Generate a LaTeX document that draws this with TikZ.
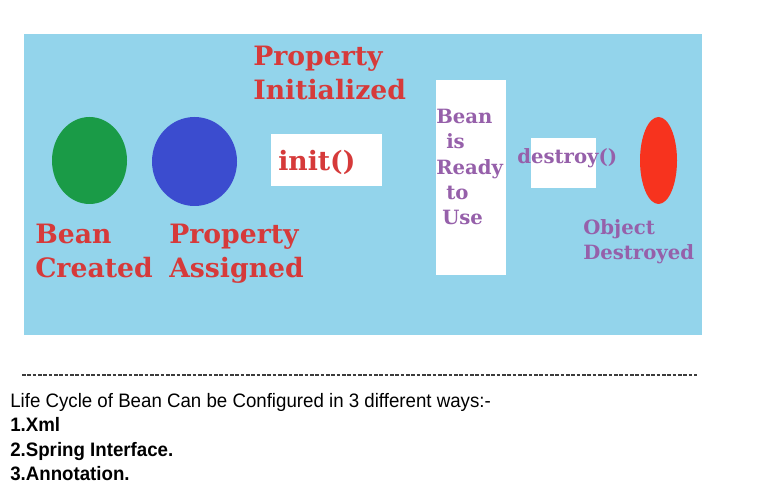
\documentclass[tikz,border=0pt]{standalone}
\usepackage{fontspec}
\setmainfont{Liberation Sans}
\newfontfamily\slabfont{DejaVu Serif}
\newfontfamily\notefont{Liberation Sans}[FakeStretch=0.96]
\definecolor{bgblue}{RGB}{147,212,235}
\definecolor{beangreen}{RGB}{26,155,71}
\definecolor{propblue}{RGB}{59,76,207}
\definecolor{destroyred}{RGB}{247,51,30}
\definecolor{labelred}{RGB}{214,58,58}
\definecolor{labelpurple}{RGB}{150,96,170}
\definecolor{dashgray}{RGB}{60,60,60}
\tikzset{
  redlabel/.style={inner sep=0pt, anchor=north west, align=left, text=labelred,
    font=\slabfont\bfseries\fontsize{20pt}{25.5pt}\selectfont},
  purplelabel/.style={inner sep=0pt, anchor=north west, align=left, text=labelpurple,
    font=\slabfont\bfseries\fontsize{14.75pt}{19pt}\selectfont},
  notetext/.style={inner sep=0pt, anchor=base west, text=black,
    font=\notefont\fontsize{14.6pt}{18pt}\selectfont},
  noteitem/.style={notetext, font=\notefont\bfseries\fontsize{14.6pt}{18pt}\selectfont},
  whitebox/.style={fill=white, draw=none},
}
\begin{document}
\begin{tikzpicture}[x=0.75pt,y=-0.75pt]
\useasboundingbox[fill=white] (0,0) rectangle (762,484);
% panel
\fill[bgblue] (24,34) rectangle (702,335);
% shapes
\fill[beangreen] (89.5,160.5) ellipse [x radius=37.5, y radius=43.5];
\node[inner sep=0pt] (created) at (89.5,160.5) {};
\fill[propblue] (194.5,161.5) ellipse [x radius=42.5, y radius=44.5];
\node[inner sep=0pt] (assigned) at (194.5,161.5) {};
\fill[whitebox] (271,134) rectangle (382,186);
\fill[whitebox] (436,80) rectangle (506,275);
\fill[whitebox] (531,138) rectangle (596,188);
\fill[destroyred] (658.5,160.5) ellipse [x radius=18.5, y radius=43.5];
\node[inner sep=0pt] (destroyed) at (658.5,160.5) {};
% red labels
\node[redlabel] (lblcreated) at (35,224) {Bean\\Created};
\node[redlabel] (lblassigned) at (169,224) {Property\\Assigned};
\node[redlabel] (lblinit) at (253,46) {Property\\Initialized};
\node[redlabel, anchor=base west] (initcall) at (278,171) {init()};
% purple labels
\node[purplelabel] (ready) at (436,109) {Bean\\\hspace*{7.5pt}is\\Ready\\\hspace*{7.5pt}to\\\hspace*{4.5pt}Use};
\node[purplelabel, anchor=base west] (destroycall) at (517,164) {destroy()};
\node[purplelabel] (lbldestroyed) at (583,219) {Object\\Destroyed};
% separator
\coordinate (sepL) at (22,375);
\coordinate (sepR) at (697,375);
\draw[dashgray, line width=0.8pt, dash pattern=on 2.8pt off 1.2pt] (sepL) -- (sepR);
% notes
\node[notetext] (n0) at (10,407) {Life Cycle of Bean Can be Configured in 3 different ways:-};
\node[noteitem] (n1) at (10,431) {1.Xml};
\node[noteitem] (n2) at (10,456) {2.Spring Interface.};
\node[noteitem] (n3) at (10,480) {3.Annotation.};
\end{tikzpicture}
\end{document}
